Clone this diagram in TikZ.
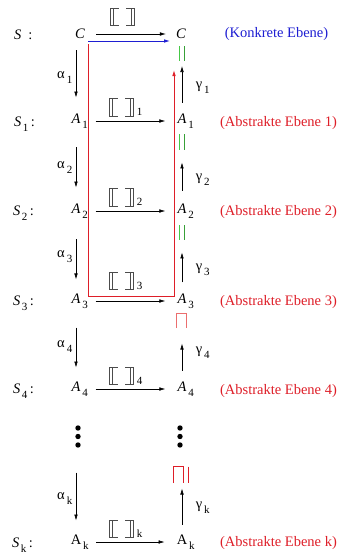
\documentclass[tikz,border=0pt]{standalone}
\usepackage{fontspec}
\setmainfont{Liberation Serif}
\usetikzlibrary{arrows.meta}
\definecolor{myred}{RGB}{222,30,40}
\definecolor{myblue}{RGB}{30,30,210}
\definecolor{mygreen}{RGB}{70,200,70}
\definecolor{mypink}{RGB}{235,110,110}
\newcommand{\subsc}[1]{\raisebox{-0.75ex}{\fontsize{11}{12}\selectfont #1}}
\newcommand{\Lsub}[2]{#1\rlap{\kern2pt\subsc{#2}}}
\newcommand{\Wsub}[2]{#1\kern1.5pt\subsc{#2}}
\newcommand{\SemBr}[4]{%
  \node[brkbox] (#1) at (#2,#3) {};
  \draw[brkline] ([xshift=8pt]#1.north west) -- (#1.north west) -- (#1.south west) -- ([xshift=8pt]#1.south west);
  \draw[brkline] ([xshift=3pt]#1.north west) -- ([xshift=3pt]#1.south west);
  \draw[brkline] ([xshift=-8pt]#1.north east) -- (#1.north east) -- (#1.south east) -- ([xshift=-8pt]#1.south east);
  \draw[brkline] ([xshift=-3pt]#1.north east) -- ([xshift=-3pt]#1.south east);
  \node[inner sep=0pt, anchor=west, font=\fontsize{11}{12}\selectfont] (#1s) at ([xshift=3.5pt,yshift=-4.5pt]#1.east) {#4};
}
\begin{document}
\begin{tikzpicture}[x=1pt,y=-1pt,
  font=\fontsize{14.5}{17}\selectfont,
  lvl/.style={inner sep=0pt},
  arr/.style={-{Latex[length=6pt,width=3.6pt]}, line width=0.6pt},
  brkbox/.style={inner sep=0pt, minimum width=23pt, minimum height=17pt},
  brkline/.style={black!70, line width=0.7pt},
  redtxt/.style={text=myred, inner sep=0pt},
  dotn/.style={circle, fill=black, inner sep=0pt, minimum size=5.4pt}]
\useasboundingbox (0,0) rectangle (342,555);

% level labels
\node[lvl, anchor=west] (S0) at (14,35) {\textit{S}\hspace{7pt}:};
\node[lvl, anchor=west] (S1) at (14,124) {\Wsub{\textit{S}}{1}\,:};
\node[lvl, anchor=west] (S2) at (13,213) {\Wsub{\textit{S}}{2}\,:};
\node[lvl, anchor=west] (S3) at (13,303) {\Wsub{\textit{S}}{3}\,:};
\node[lvl, anchor=west] (S4) at (13,391) {\Wsub{\textit{S}}{4}\,:};
\node[lvl, anchor=west] (Sk) at (12,545) {\Wsub{\textit{S}}{k}\,:};

% left column
\node[lvl] (C0) at (80,34) {\textit{C}};
\node[lvl] (A1l) at (76,121) {\Lsub{\textit{A}}{1}};
\node[lvl] (A2l) at (76,211) {\Lsub{\textit{A}}{2}};
\node[lvl] (A3l) at (76,301) {\Lsub{\textit{A}}{3}};
\node[lvl] (A4l) at (76,389) {\Lsub{\textit{A}}{4}};
\node[lvl] (Akl) at (76,542) {\Lsub{A}{k}};
% right column
\node[lvl] (C0r) at (181,34) {\textit{C}};
\node[lvl] (A1r) at (182,121) {\Lsub{\textit{A}}{1}};
\node[lvl] (A2r) at (182,211) {\Lsub{\textit{A}}{2}};
\node[lvl] (A3r) at (182,301) {\Lsub{\textit{A}}{3}};
\node[lvl] (A4r) at (182,389) {\Lsub{\textit{A}}{4}};
\node[lvl] (Akr) at (182,542) {\Lsub{A}{k}};

% dots
\node[dotn] (dL1) at (78,428) {};
\node[dotn] (dL) at (78,436.5) {};
\node[dotn] (dL3) at (78,445) {};
\node[dotn] (dR1) at (180,428) {};
\node[dotn] (dR) at (180,436.5) {};
\node[dotn] (dR3) at (180,445) {};

% horizontal arrows
\draw[arr, shorten <=11pt, shorten >=10pt] (C0) -- (C0r);
\draw[arr, shorten <=15pt, shorten >=12pt] (A1l) -- (A1r);
\draw[arr, shorten <=15pt, shorten >=12pt] (A2l) -- (A2r);
\draw[arr, shorten <=15pt, shorten >=12pt] (A3l) -- (A3r);
\draw[arr, shorten <=15pt, shorten >=12pt] (A4l) -- (A4r);
\draw[arr, shorten <=15pt, shorten >=12pt] (Akl) -- (Akr);

% semantic brackets
\SemBr{b0}{122.5}{17}{}
\SemBr{b1}{121.5}{107.5}{1}
\SemBr{b2}{121.5}{197.5}{2}
\SemBr{b3}{121.5}{281}{3}
\SemBr{b4}{121.5}{376}{4}
\SemBr{bk}{121.5}{529}{k}

% alpha arrows
\draw[arr, shorten <=16pt, shorten >=16pt] (C0 -| A1l) -- (A1l);
\draw[arr, shorten <=19pt, shorten >=16pt] (A1l) -- (A2l);
\draw[arr, shorten <=21pt, shorten >=14pt] (A2l) -- (A3l);
\draw[arr, shorten <=19pt, shorten >=14pt] (A3l) -- (A4l);
\draw[arr, shorten <=36pt, shorten >=14pt] (dL -| Akl) -- (Akl);
\node[lvl] (al1) at (61,78) {\Lsub{α}{1}};
\node[lvl] (al2) at (61,168) {\Lsub{α}{2}};
\node[lvl] (al3) at (61,257) {\Lsub{α}{3}};
\node[lvl] (al4) at (61,347) {\Lsub{α}{4}};
\node[lvl] (alk) at (61,499) {\Lsub{α}{k}};

% gamma arrows
\draw[arr, shorten <=11pt, shorten >=32pt] (A1r) -- (C0r -| A1r);
\draw[arr, shorten <=13pt, shorten >=34pt] (A2r) -- (A1r);
\draw[arr, shorten <=11pt, shorten >=34pt] (A3r) -- (A2r);
\draw[arr, shorten <=11pt, shorten >=35pt] (A4r) -- (A3r);
\draw[arr, shorten <=10pt, shorten >=52pt] (Akr) -- (dR -| Akr);
\node[lvl] (g1) at (199,88) {\Lsub{γ}{1}};
\node[lvl] (g2) at (199,180) {\Lsub{γ}{2}};
\node[lvl] (g3) at (199,270) {\Lsub{γ}{3}};
\node[lvl] (g4) at (199,353) {\Lsub{γ}{4}};
\node[lvl] (gk) at (199,508) {\Lsub{γ}{k}};

% level descriptions
\node[lvl, text=myblue] (E0) at (276.5,34) {(Konkrete Ebene)};
\node[redtxt] (E1) at (278.5,123) {(Abstrakte Ebene 1)};
\node[redtxt] (E2) at (278.5,212) {(Abstrakte Ebene 2)};
\node[redtxt] (E3) at (278.5,302) {(Abstrakte Ebene 3)};
\node[redtxt] (E4) at (278.5,391) {(Abstrakte Ebene 4)};
\node[redtxt] (Ek) at (278.5,543) {(Abstrakte Ebene k)};

% blue arrow and red path
\coordinate (bs) at (88,41);
\coordinate (be) at (170,41);
\draw[arr, myblue, line width=0.8pt] (bs) -- (be);
\coordinate (r0) at (88,44);
\coordinate (r1) at (88,296);
\coordinate (r2) at (174,296);
\coordinate (r3) at (174,70);
\draw[myred, line width=0.9pt, -{Latex[length=6pt,width=3.6pt]}] (r0) -- (r1) -- (r2) -- (r3);

% green equality bars
\foreach \ya/\yb in {46/61, 134/150, 225/240}{
  \draw[mygreen, line width=0.9pt] (179.5,\ya) -- (179.5,\yb);
  \draw[mygreen!80!black, line width=0.9pt] (184,\ya) -- (184,\yb);
}
% sqcap symbols
\draw[mypink, line width=1pt] (176.5,328) -- (176.5,313.5) -- (186.5,313.5) -- (186.5,328);
\draw[myred, line width=1pt] (173.5,483) -- (173.5,466.5) -- (183.5,466.5) -- (183.5,483);
\draw[myred, line width=1pt] (188,466.5) -- (188,483);
\end{tikzpicture}
\end{document}
